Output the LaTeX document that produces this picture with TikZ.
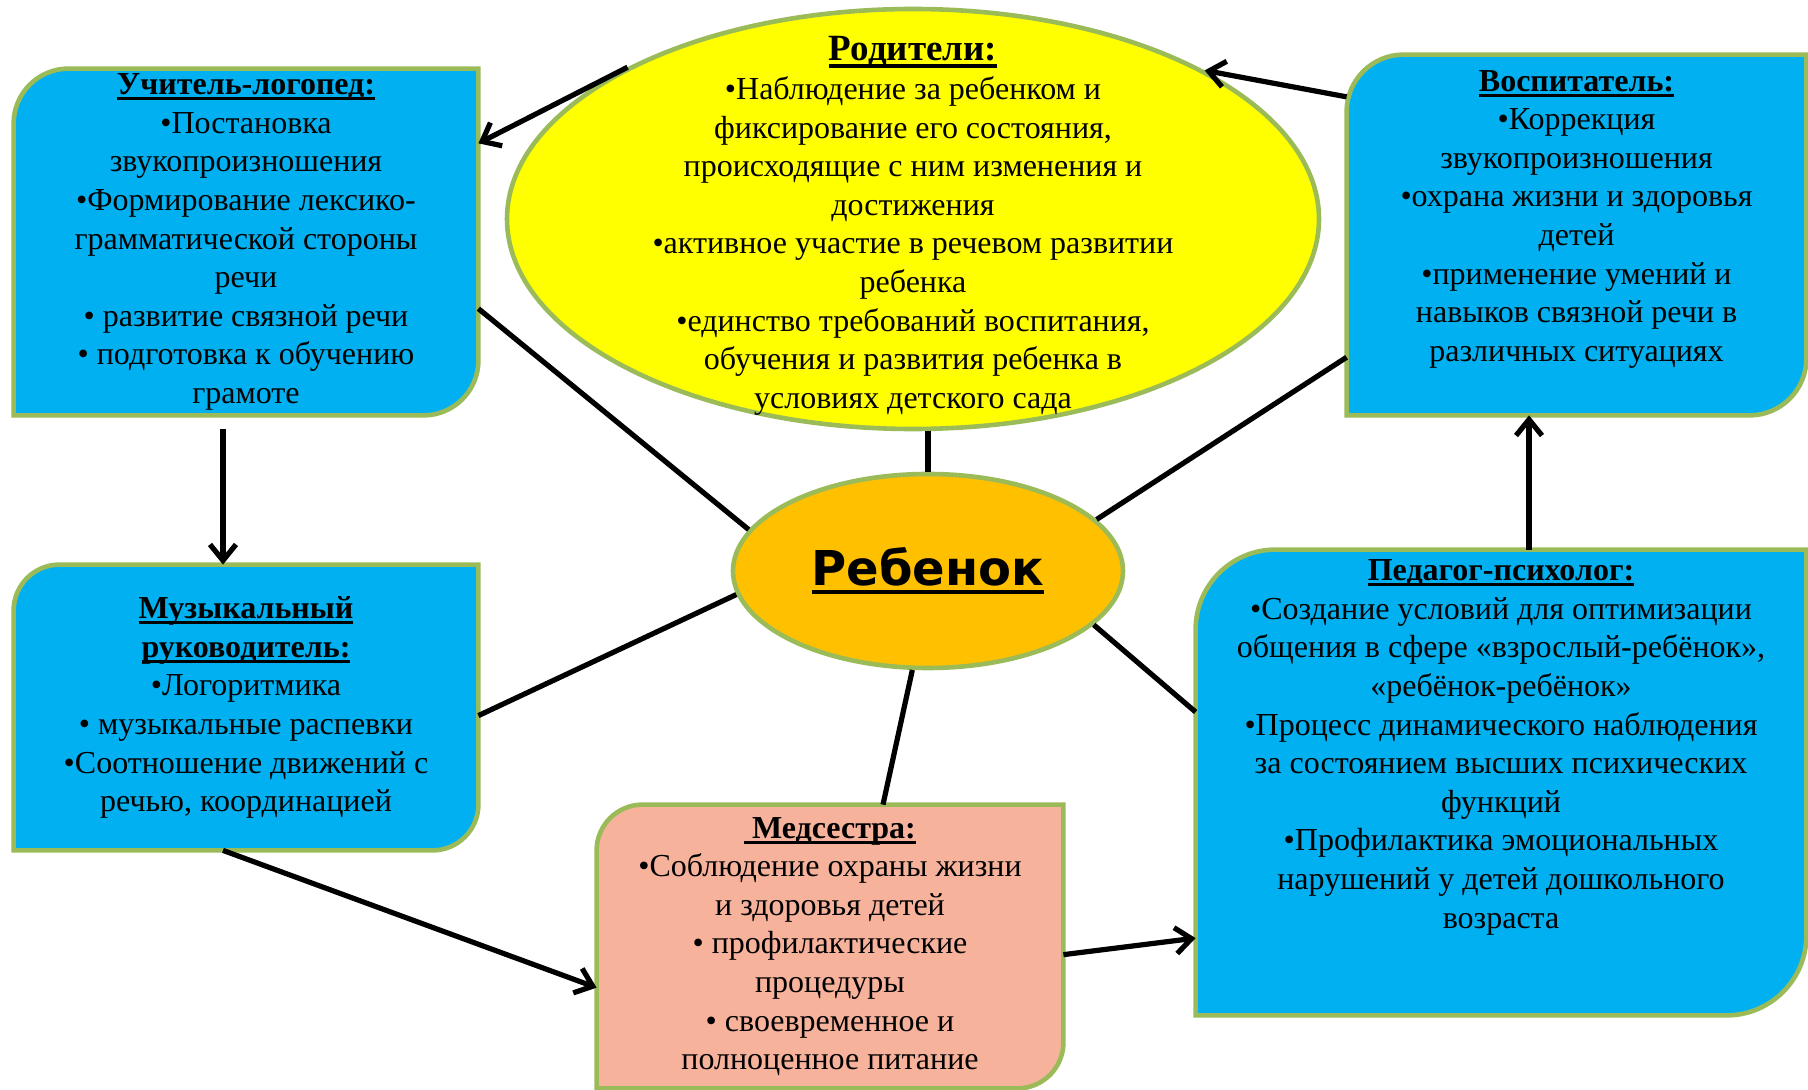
\documentclass[tikz,border=0pt]{standalone}
\usepackage{fontspec}
\setmainfont{Liberation Serif}
\newfontfamily\childfont{DejaVu Sans}
\usepackage{xcolor}
\usepackage{tikz}
\usetikzlibrary{shapes.geometric,arrows.meta,positioning,backgrounds}

\definecolor{boxblue}{HTML}{00B0F0}
\definecolor{rimgreen}{HTML}{9BBB59}
\definecolor{parentyellow}{HTML}{FFFF00}
\definecolor{childorange}{HTML}{FFC000}
\definecolor{nursepink}{HTML}{F7B29C}

% underline through the descenders
\newcommand{\undl}[1]{\setbox0=\hbox{#1}\rlap{\vrule height -0.08em depth 0.18em width \wd0}\box0}

% rectangle with rounded top-left and bottom-right corners
\newcommand{\diagshape}[3]{%
  \draw[rim, fill=#2] ([yshift=-#3]#1.north west)
    arc[start angle=180, end angle=90, radius=#3] -- (#1.north east)
    -- ([yshift=#3]#1.south east)
    arc[start angle=0, end angle=-90, radius=#3] -- (#1.south west) -- cycle;}

\begin{document}
\begin{tikzpicture}[
    x=0.5pt, y=-0.5pt,
    card/.style={rectangle, align=center, inner sep=0pt, font=\fontsize{16}{19.3}\selectfont},
    rim/.style={draw=rimgreen, line width=2.3pt},
    oval/.style={ellipse, draw=rimgreen, line width=2.3pt, inner sep=0pt},
    link/.style={line width=2.6pt},
    arrow/.style={link, -{Straight Barb[length=8pt,width=13pt]}}
]
    \useasboundingbox (0,0) rectangle (1808,1090);

    % Родители и ребенок
    \node[oval, fill=parentyellow, minimum width=406pt, minimum height=210pt] (parents) at (913,219) {};
    \node[card] (parentstext) at (913,226) {{\fontsize{18.5}{19.3}\selectfont\textbf{\undl{Родители:}}}\\•Наблюдение за ребенком и\\фиксирование его состояния,\\происходящие с ним  изменения и\\достижения\\•активное участие в речевом развитии\\ребенка\\•единство требований воспитания,\\обучения и развития ребенка в\\условиях детского сада};
    \node[oval, fill=childorange, minimum width=195pt, minimum height=97pt,
          font=\childfont\bfseries\fontsize{24}{28}\selectfont] (child) at (928,571) {\undl{Ребенок}};

    % Специалисты
    \node[card, minimum width=232pt, minimum height=173pt] (logoped) at (246,242) {\textbf{\undl{Учитель-логопед:}}\\•Постановка\\звукопроизношения\\•Формирование лексико-\\грамматической стороны\\речи\\• развитие связной речи\\• подготовка к обучению\\грамоте};
    \node[card, minimum width=229.5pt, minimum height=180pt] (vospit) at (1576.5,235) {\textbf{\undl{Воспитатель:}}\\•Коррекция\\звукопроизношения\\•охрана жизни и здоровья\\детей\\•применение умений и\\навыков связной речи в\\различных ситуациях\\\mbox{}};
    \node[card, minimum width=232pt, minimum height=142.5pt] (music) at (246,707.5) {\textbf{\undl{Музыкальный}}\\\textbf{\undl{руководитель:}}\\•Логоритмика\\• музыкальные распевки\\•Соотношение движений с\\речью, координацией};
    \node[card, minimum width=233pt, minimum height=141.5pt] (nurse) at (830,946.5) {\textbf{\undl{ Медсестра:}}\\•Соблюдение охраны жизни\\и здоровья детей\\• профилактические\\процедуры\\• своевременное и\\полноценное питание};
    \node[card, minimum width=305pt, minimum height=232.5pt] (psych) at (1501,782.5) {\textbf{\undl{Педагог-психолог:}}\\•Создание условий для оптимизации\\общения в сфере «взрослый-ребёнок»,\\«ребёнок-ребёнок»\\•Процесс динамического наблюдения\\за состоянием высших психических\\функций\\•Профилактика эмоциональных\\нарушений у детей дошкольного\\возраста\\\mbox{}\\\mbox{}};

    \begin{scope}[on background layer]
        \diagshape{logoped}{boxblue}{27.5pt}
        \diagshape{vospit}{boxblue}{28.5pt}
        \diagshape{music}{boxblue}{23pt}
        \diagshape{nurse}{nursepink}{23pt}
        \diagshape{psych}{boxblue}{40pt}
    \end{scope}

    % Линии к ребенку
    \draw[link] (logoped.-16) -- (child.167);
    \draw[link] (child.north) -- (child.north |- parents.south);
    \draw[link] (vospit.208) -- (child.17);
    \draw[link] (psych.167) -- (child.-18);
    \draw[link] (music.-2) -- (child.187);
    \draw[link] (child.261) -- ([xshift=26.5pt]nurse.north);

    % Стрелки по кругу
    \draw[arrow] (parents.152) -- (logoped.23);
    \draw[arrow, shorten <=7pt] ([xshift=-11.5pt]logoped.south) -- ([xshift=-11.5pt]music.north);
    \draw[arrow] ([xshift=-11.5pt]music.south) -- (nurse.190);
    \draw[arrow] (nurse.-2) -- (psych.207);
    \draw[arrow] ([xshift=14pt]psych.north) -- ([xshift=14pt]psych.north |- vospit.south);
    \draw[arrow] (vospit.149) -- (parents.27);
\end{tikzpicture}
\end{document}
